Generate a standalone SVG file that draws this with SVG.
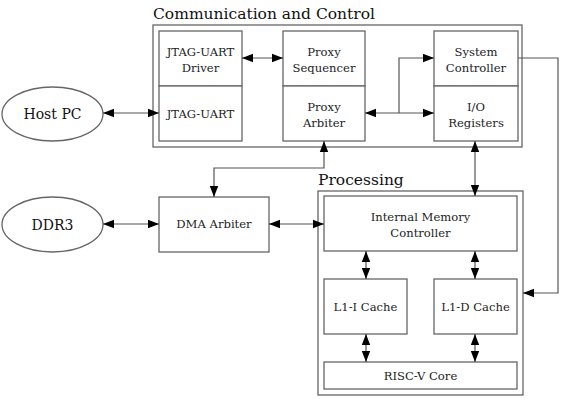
<svg xmlns="http://www.w3.org/2000/svg" width="564" height="401" viewBox="0 0 564 401">
<defs>
<marker id="ah" viewBox="0 0 10 10" refX="10" refY="5" markerWidth="11" markerHeight="11" markerUnits="userSpaceOnUse" orient="auto-start-reverse">
<path d="M0,1.2 L10,5 L0,8.8 z" fill="#000"/>
</marker>
<style>
.b{fill:#fff;stroke:#666;stroke-width:1.3}
.t{font-family:"DejaVu Serif","Liberation Serif",serif;font-size:11.6px;fill:#222;text-anchor:middle}
.l{font-family:"DejaVu Serif","Liberation Serif",serif;font-size:15.5px;fill:#111}
.e{font-family:"DejaVu Serif","Liberation Serif",serif;font-size:14px;fill:#111;text-anchor:middle}
.a{fill:none;stroke:#555;stroke-width:1.2;marker-end:url(#ah)}
.d{fill:none;stroke:#555;stroke-width:1.2;marker-end:url(#ah);marker-start:url(#ah)}
</style>
</defs>
<rect width="564" height="401" fill="#fff"/>
<g id="comm">
<text class="l" x="153" y="19">Communication and Control</text>
<rect class="b" x="153" y="25" width="369" height="122"/>
</g>
<g id="jtagdrv"><rect class="b" x="159" y="31" width="83" height="55"/><text class="t" x="200.5" y="56">JTAG-UART</text><text class="t" x="200.5" y="72">Driver</text></g>
<g id="jtag"><rect class="b" x="159" y="86" width="83" height="55"/><text class="t" x="200.5" y="118">JTAG-UART</text></g>
<g id="proxyseq"><rect class="b" x="283" y="31" width="82" height="55"/><text class="t" x="324" y="56">Proxy</text><text class="t" x="324" y="72">Sequencer</text></g>
<g id="proxyarb"><rect class="b" x="283" y="86" width="82" height="55"/><text class="t" x="324" y="111">Proxy</text><text class="t" x="324" y="127">Arbiter</text></g>
<g id="sysctl"><rect class="b" x="434" y="31" width="84" height="55"/><text class="t" x="476" y="56">System</text><text class="t" x="476" y="72">Controller</text></g>
<g id="io"><rect class="b" x="434" y="86" width="84" height="55"/><text class="t" x="476" y="111">I/O</text><text class="t" x="476" y="127">Registers</text></g>
<g id="hostpc"><ellipse class="b" cx="52.5" cy="114" rx="50.5" ry="27"/><text class="e" x="52.5" y="119">Host PC</text></g>
<g id="ddr3"><ellipse class="b" cx="52.5" cy="224.5" rx="50.5" ry="27.5"/><text class="e" x="52.5" y="230">DDR3</text></g>
<g id="dma"><rect class="b" x="159" y="197" width="110" height="55"/><text class="t" x="214" y="228">DMA Arbiter</text></g>
<g id="proc">
<text class="l" x="318" y="185">Processing</text>
<rect class="b" x="318" y="191" width="205" height="204"/>
</g>
<g id="imc"><rect class="b" x="324" y="196" width="193" height="55"/><text class="t" x="420.5" y="221">Internal Memory</text><text class="t" x="420.5" y="237">Controller</text></g>
<g id="l1i"><rect class="b" x="324" y="279" width="83" height="55"/><text class="t" x="365.5" y="311">L1-I Cache</text></g>
<g id="l1d"><rect class="b" x="434" y="279" width="83" height="55"/><text class="t" x="475.5" y="311">L1-D Cache</text></g>
<g id="core"><rect class="b" x="324" y="362" width="193" height="27"/><text class="t" x="420.5" y="380">RISC-V Core</text></g>
<g id="connectors">
<path class="d" d="M242,58 H283"/>
<path class="d" d="M365,113 H434"/>
<path class="a" d="M399,113 V58 H434"/>
<path class="a" d="M518,58 H558 V293 H523"/>
<path class="d" d="M103,113 H159"/>
<path class="d" d="M103,224 H159"/>
<path class="d" d="M269,224 H324"/>
<path class="d" d="M324,141 V168 H214 V197"/>
<path class="d" d="M475,141 V196"/>
<path class="d" d="M366,251 V279"/>
<path class="d" d="M475,251 V279"/>
<path class="d" d="M366,334 V362"/>
<path class="d" d="M475,334 V362"/>
</g>
</svg>
